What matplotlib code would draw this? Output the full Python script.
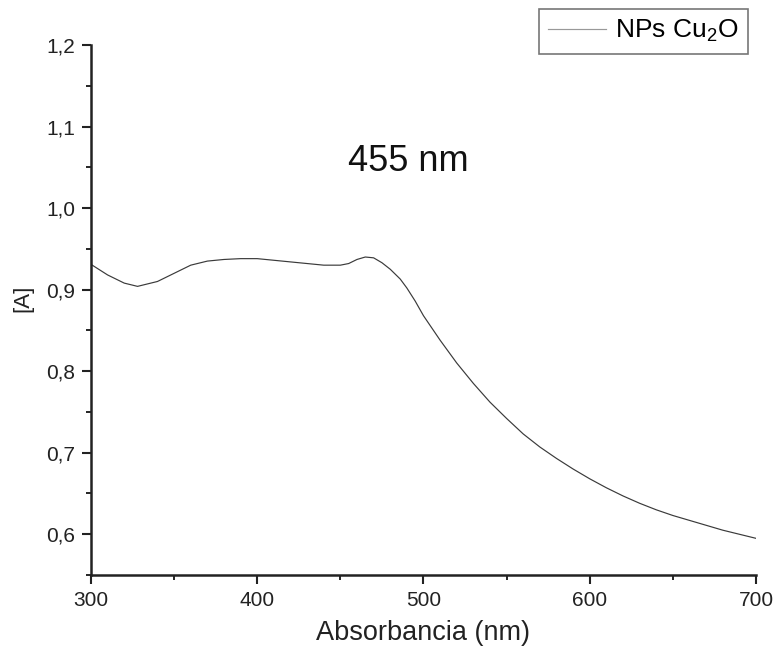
import numpy as np
import matplotlib.pyplot as plt
from matplotlib.ticker import MultipleLocator

plt.rcParams['font.family'] = ['Liberation Sans', 'DejaVu Sans']
plt.rcParams['mathtext.default'] = 'regular'

# spectrum
wavelength = [300, 310, 320, 328, 340, 350, 360, 370, 380, 390, 400, 410, 420, 430,
              440, 450, 455, 460, 465, 470, 475, 480, 486, 490, 495, 500, 510, 520,
              530, 540, 550, 560, 570, 580, 590, 600, 610, 620, 630, 640, 650, 660,
              670, 680, 690, 700]
absorb = [0.931, 0.918, 0.908, 0.904, 0.910, 0.920, 0.930, 0.935, 0.937, 0.938,
          0.938, 0.936, 0.934, 0.932, 0.930, 0.930, 0.932, 0.937, 0.940, 0.939,
          0.933, 0.925, 0.913, 0.902, 0.886, 0.868, 0.838, 0.810, 0.785, 0.762,
          0.742, 0.723, 0.707, 0.693, 0.680, 0.668, 0.657, 0.647, 0.638, 0.630,
          0.623, 0.617, 0.611, 0.605, 0.600, 0.595]
xticks = [300, 400, 500, 600, 700]
yticks = [0.6, 0.7, 0.8, 0.9, 1.0, 1.1, 1.2]
ytick_labels = ['0,6', '0,7', '0,8', '0,9', '1,0', '1,1', '1,2']

fig = plt.figure(figsize=(7.73, 6.58), dpi=100)
ax = fig.add_axes([0.1177, 0.1261, 0.8603, 0.8055])

line, = ax.plot(wavelength, absorb, color='#3a3a3a', lw=0.85, label='NPs Cu$_2$O')

ax.set_xlim(300, 700)
ax.set_ylim(0.55, 1.2)
ax.set_xticks(xticks)
ax.set_yticks(yticks)
ax.set_yticklabels(ytick_labels)
ax.xaxis.set_minor_locator(MultipleLocator(50))
ax.yaxis.set_minor_locator(MultipleLocator(0.05))
ax.tick_params(which='major', direction='out', length=6.5, width=1.5, pad=5,
               labelsize=15, colors='#222222')
ax.tick_params(which='minor', direction='out', length=3.5, width=1.2)
for s in ['top', 'right']:
    ax.spines[s].set_visible(False)
for s in ['left', 'bottom']:
    ax.spines[s].set_linewidth(1.8)
    ax.spines[s].set_color('#222222')

ax.set_xlabel('Absorbancia (nm)', fontsize=19.5, color='#222222', labelpad=7)
ax.set_ylabel('[A]', fontsize=16, color='#222222')
ax.yaxis.set_label_coords(-0.086, 0.523)

ax.text(491, 1.0455, '455 nm', fontsize=26, ha='center', va='baseline', color='#111111')

leg = fig.legend(handles=[line], loc='upper right', bbox_to_anchor=(0.9677, 0.9863),
                 fontsize=19, fancybox=False, edgecolor='#555555', handlelength=2.2,
                 handletextpad=0.35, borderpad=0.35, borderaxespad=0)
leg.get_frame().set_linewidth(1.2)
leg.get_lines()[0].set_color('#999999')

plt.savefig('out.png', dpi=100)
